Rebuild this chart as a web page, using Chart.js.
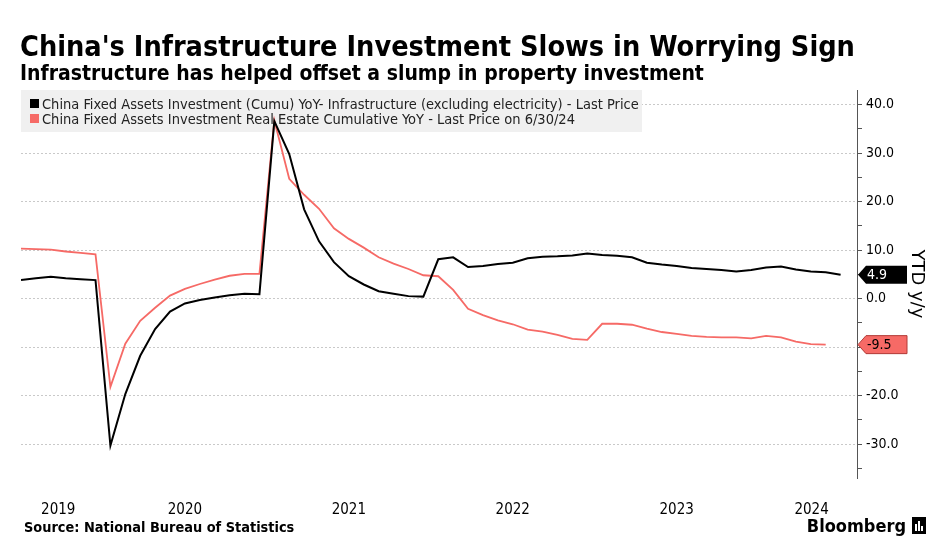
<!DOCTYPE html>
<html>
<head>
<meta charset="utf-8">
<script src="https://cdn.jsdelivr.net/npm/chart.js@4.4.1/dist/chart.umd.min.js"></script>
<style>
  html, body { margin: 0; padding: 0; background: #fff; }
  #wrap { width: 933px; height: 543px; position: relative; }
</style>
</head>
<body>
<div id="wrap"><canvas id="chart"></canvas></div>
<script>
(function(){
  'use strict';

  // monthly cumulative data (no separate January release)
  var months = [
    '2019-07','2019-08','2019-09','2019-10','2019-11','2019-12',
    '2020-02','2020-03','2020-04','2020-05','2020-06','2020-07','2020-08','2020-09','2020-10','2020-11','2020-12',
    '2021-02','2021-03','2021-04','2021-05','2021-06','2021-07','2021-08','2021-09','2021-10','2021-11','2021-12',
    '2022-02','2022-03','2022-04','2022-05','2022-06','2022-07','2022-08','2022-09','2022-10','2022-11','2022-12',
    '2023-02','2023-03','2023-04','2023-05','2023-06','2023-07','2023-08','2023-09','2023-10','2023-11','2023-12',
    '2024-02','2024-03','2024-04','2024-05','2024-06','2024-07'
  ];

  var infraYoY = [
    3.8, 4.2, 4.5, 4.2, 4.0, 3.8,
    -30.3, -19.7, -11.8, -6.3, -2.7, -1.0, -0.3, 0.2, 0.7, 1.0, 0.9,
    36.6, 29.8, 18.4, 11.8, 7.5, 4.6, 2.9, 1.5, 1.0, 0.5, 0.4,
    8.1, 8.5, 6.5, 6.7, 7.1, 7.4, 8.3, 8.6, 8.7, 8.9, 9.3,
    9.0, 8.8, 8.5, 7.4, 7.0, 6.7, 6.3, 6.1, 5.9, 5.6, 5.9,
    6.4, 6.6, 6.0, 5.6, 5.4, 4.9
  ];

  var realEstateYoY = [
    10.3, 10.2, 10.1, 9.7, 9.4, 9.1,
    -18.2, -9.3, -4.6, -1.9, 0.6, 2.0, 3.0, 3.9, 4.7, 5.1, 5.1,
    36.7, 24.7, 21.4, 18.5, 14.5, 12.3, 10.5, 8.5, 7.2, 6.1, 4.8,
    4.6, 1.8, -2.1, -3.4, -4.5, -5.3, -6.4, -6.8, -7.5, -8.3, -8.5,
    -5.2, -5.2, -5.4, -6.2, -6.9, -7.3, -7.7, -7.9, -8.0, -8.0, -8.2,
    -7.7, -8.0, -8.9, -9.4, -9.5
  ];

  var seriesNames = [
    'China Fixed Assets Investment (Cumu) YoY- Infrastructure (excluding electricity) - Last Price',
    'China Fixed Assets Investment Real Estate Cumulative YoY - Last Price on 6/30/24'
  ];
  var seriesColors = ['#000000', '#f66a66'];

  var yearLabels = ['2019', '2020', '2021', '2022', '2023', '2024'];
  var yTickValues = [-35, -30, -25, -20, -15, -10, -5, 0, 5, 10, 15, 20, 25, 30, 35, 40];

  var xMin = 0, xMax = 56.1;
  var FONT = '"DejaVu Sans Condensed", "DejaVu Sans", sans-serif';

  function toPoints(values) {
    return values.map(function(v, i){ return {x: i, y: v}; });
  }

  // year label sits in the middle of that year's points
  var yearCenters = yearLabels.map(function(y, k){
    var idx = [];
    months.forEach(function(m, i){ if (m.slice(0, 4) === y) idx.push(i); });
    var first = k === 0 ? xMin : idx[0];
    var last = k === yearLabels.length - 1 ? xMax : idx[idx.length - 1];
    return (first + last) / 2;
  });

  var decor = {
    id: 'decor',
    beforeDraw: function(chart){
      var ctx = chart.ctx;
      ctx.save();
      ctx.fillStyle = '#fff';
      ctx.fillRect(0, 0, chart.width, chart.height);
      ctx.fillStyle = '#000';
      ctx.textBaseline = 'alphabetic';
      ctx.font = 'bold 28.6px ' + FONT;
      ctx.fillText("China's Infrastructure Investment Slows in Worrying Sign", 20, 56);
      ctx.font = 'bold 21px ' + FONT;
      ctx.fillText('Infrastructure has helped offset a slump in property investment', 20, 80);
      ctx.font = 'bold 14.4px ' + FONT;
      ctx.fillText('Source: National Bureau of Statistics', 24, 532);
      ctx.font = 'bold 18px ' + FONT;
      ctx.textAlign = 'right';
      ctx.fillText('Bloomberg', 906, 532);
      ctx.fillRect(912, 517, 14, 17);
      ctx.fillStyle = '#fff';
      ctx.fillRect(915, 524, 2, 7);
      ctx.fillRect(918, 521, 2, 10);
      ctx.fillRect(921, 526, 2, 5);
      ctx.restore();
    },
    beforeDatasetsDraw: function(chart){
      var ctx = chart.ctx;
      ctx.save();
      ctx.fillStyle = '#f0f0f0';
      ctx.fillRect(21, 90, 621, 42);
      ctx.font = '14.5px ' + FONT;
      ctx.textBaseline = 'alphabetic';
      seriesNames.forEach(function(name, i){
        var base = 109 + i * 15;
        ctx.fillStyle = seriesColors[i];
        ctx.fillRect(30, base - 10, 9, 9);
        ctx.fillStyle = '#222';
        ctx.fillText(name, 42, base);
      });
      ctx.restore();
    },
    afterDraw: function(chart){
      var ctx = chart.ctx;
      var ys = chart.scales.y;
      var x0 = chart.chartArea.right + 1;
      ctx.save();
      ctx.font = '14px ' + FONT;
      ctx.textBaseline = 'middle';
      chart.data.datasets.forEach(function(ds, i){
        var last = ds.data[ds.data.length - 1].y;
        var y = ys.getPixelForValue(last);
        ctx.beginPath();
        ctx.moveTo(x0, y);
        ctx.lineTo(x0 + 8, y - 9);
        ctx.lineTo(x0 + 49, y - 9);
        ctx.lineTo(x0 + 49, y + 9);
        ctx.lineTo(x0 + 8, y + 9);
        ctx.closePath();
        ctx.fillStyle = seriesColors[i];
        ctx.fill();
        if (i === 1) {
          ctx.strokeStyle = '#b23a36';
          ctx.lineWidth = 1;
          ctx.stroke();
        }
        ctx.fillStyle = i === 0 ? '#fff' : '#000';
        ctx.fillText(last.toFixed(1), x0 + 9, y + 1);
      });
      ctx.restore();
    }
  };

  var ctx = document.getElementById('chart').getContext('2d');
  var myChart = new Chart(ctx, {
    type: 'line',
    data: {
      datasets: [{
        label: seriesNames[0],
        data: toPoints(infraYoY),
        borderColor: seriesColors[0],
        borderWidth: 2,
        pointRadius: 0,
        tension: 0,
        order: 1
      }, {
        label: seriesNames[1],
        data: toPoints(realEstateYoY),
        borderColor: seriesColors[1],
        borderWidth: 1.8,
        pointRadius: 0,
        tension: 0,
        order: 2
      }]
    },
    options: {
      responsive: true,
      maintainAspectRatio: false,
      animation: false,
      layout: { padding: { left: 21, top: 90, right: 0, bottom: 0 } },
      plugins: {
        legend: { display: false },
        title: { display: false },
        tooltip: { enabled: false }
      },
      scales: {
        x: {
          type: 'linear',
          min: xMin,
          max: xMax,
          grid: { display: false },
          border: { display: false },
          afterBuildTicks: function(axis){
            axis.ticks = yearCenters.map(function(v){ return {value: v}; });
          },
          afterFit: function(axis){ axis.height = 65; },
          ticks: {
            autoSkip: false,
            maxRotation: 0,
            padding: 15,
            color: '#000',
            font: { family: FONT, size: 15 },
            callback: function(value, index){ return yearLabels[index]; }
          }
        },
        y: {
          position: 'right',
          min: -37,
          max: 43,
          afterBuildTicks: function(axis){
            axis.ticks = yTickValues.map(function(v){ return {value: v}; });
          },
          afterFit: function(axis){ axis.width = 76; },
          grid: {
            color: function(c){
              return c.tick && c.tick.value % 10 === 0 ? '#c9c9c9' : 'rgba(0,0,0,0)';
            },
            tickColor: '#555',
            tickLength: 5,
            lineWidth: 1
          },
          border: { display: true, color: '#555', width: 1, dash: [2, 2] },
          title: {
            display: true,
            text: 'YTD y/y',
            color: '#000',
            font: { family: '"DejaVu Sans", sans-serif', size: 18 },
            padding: { top: 6, bottom: 0 }
          },
          ticks: {
            padding: 4,
            color: '#000',
            font: { family: FONT, size: 14 },
            callback: function(value){ return value % 10 === 0 ? value.toFixed(1) : ''; }
          }
        }
      }
    },
    plugins: [decor]
  });
})();
</script>
</body>
</html>
